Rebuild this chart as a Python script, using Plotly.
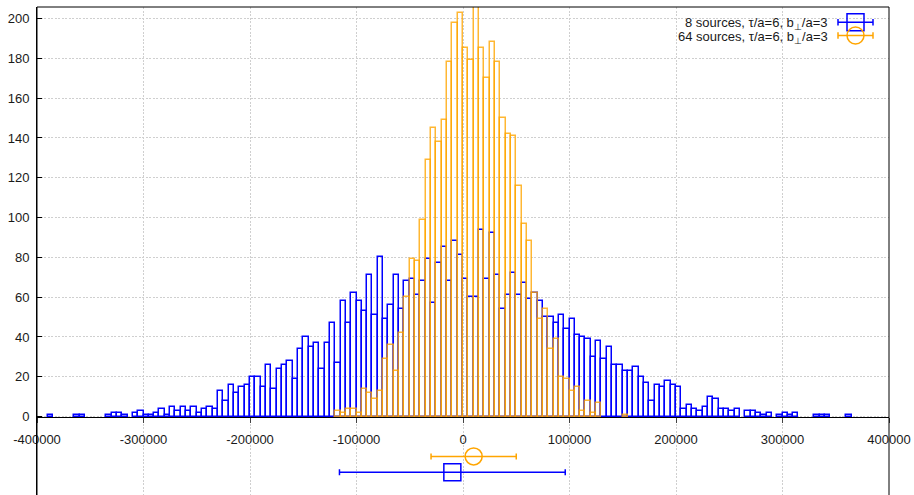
import plotly.graph_objects as go

# ---------------------------------------------------------------------------
# Histogram data: 5000-wide bins from -400000 to 400000 (left edges)
# ---------------------------------------------------------------------------
BIN_WIDTH = 5000
bin_left = list(range(-400000, 400000, BIN_WIDTH))

# 8 sources, tau/a=6, b_perp/a=3
counts_8 = [
    0, 0, 1, 0, 0, 0, 0, 1, 1, 0,            # -400000 .. -355000
    0, 0, 0, 1, 2, 2, 1, 0, 2, 3,            # -350000 .. -305000
    1, 1, 2, 4, 1, 5, 3, 5, 3, 5,            # -300000 .. -255000
    2, 4, 5, 4, 13, 8, 16, 12, 15, 16,       # -250000 .. -205000
    20, 20, 15, 26, 14, 24, 26, 28, 19, 34,  # -200000 .. -155000
    40, 35, 37, 24, 37, 47, 27, 58, 47, 62,  # -150000 .. -105000
    58, 53, 71, 51, 80, 49, 56, 71, 54, 68,  # -100000 .. -55000
    69, 61, 68, 79, 57, 77, 85, 68, 88, 81,  # -50000 .. -5000
    69, 60, 60, 94, 69, 92, 71, 54, 61, 72,  # 0 .. 45000
    61, 67, 59, 62, 58, 50, 50, 47, 51, 44,  # 50000 .. 95000
    49, 41, 40, 39, 30, 38, 29, 35, 26, 26,  # 100000 .. 145000
    23, 23, 25, 20, 17, 8, 16, 15, 18, 16,   # 150000 .. 195000
    15, 4, 6, 4, 3, 5, 10, 9, 4, 4,          # 200000 .. 245000
    3, 4, 0, 3, 3, 2, 1, 2, 0, 1,            # 250000 .. 295000
    2, 1, 2, 0, 0, 0, 1, 1, 1, 0,            # 300000 .. 345000
    0, 0, 1, 0, 0, 0, 0, 0, 0, 0,            # 350000 .. 395000
]

# 64 sources, tau/a=6, b_perp/a=3
counts_64 = [
    0, 0, 0, 0, 0, 0, 0, 0, 0, 0,
    0, 0, 0, 0, 0, 0, 0, 0, 0, 0,
    0, 0, 0, 0, 0, 0, 0, 0, 0, 0,
    0, 0, 0, 0, 0, 0, 0, 0, 0, 0,
    0, 0, 0, 0, 0, 0, 0, 0, 0, 0,
    0, 0, 0, 0, 0, 0, 3, 2, 4, 4,                 # ... -105000
    2, 14, 12, 9, 13, 29, 36, 23, 42, 60,         # -100000 .. -55000
    79, 78, 99, 129, 145, 138, 149, 178, 198, 203,  # -50000 .. -5000
    185, 179, 212, 185, 170, 188, 178, 150, 142, 141,  # 0 .. 45000
    116, 97, 88, 62, 49, 54, 34, 39, 20, 19,      # 50000 .. 95000
    13, 15, 3, 8, 2, 7, 0, 0, 0, 0,               # 100000 .. 145000
    1, 0, 0, 0, 0, 0, 0, 0, 0, 0,                 # 150000 ..
    0, 0, 0, 0, 0, 0, 0, 0, 0, 0,
    0, 0, 0, 0, 0, 0, 0, 0, 0, 0,
    0, 0, 0, 0, 0, 0, 0, 0, 0, 0,
    0, 0, 0, 0, 0, 0, 0, 0, 0, 0,
]

# Mean and spread of each distribution, drawn below the histogram
series_names = ["8 sources, τ/a=6, b<sub>⊥</sub>/a=3",
                "64 sources, τ/a=6, b<sub>⊥</sub>/a=3"]
series_mean = [-10000, 10000]
series_spread = [106000, 40000]
series_row = [-28, -20]

x_ticks = list(range(-400000, 400001, 100000))
y_ticks = list(range(0, 201, 20))

# ---------------------------------------------------------------------------
BLUE = "#0000ff"
ORANGE = "#ffa500"
ORANGE_OVER = "rgba(255,165,0,0.8)"
GRID = "#cfcfcf"
GRID_DASH = "2px,1.5px"

W, H = 914, 495
ML, MR, MT, MB = 37, 25, 7, 0
PW, PH = W - ML - MR, H - MT - MB
YMIN, YMAX = -39.4, 205.8


def fx(px):
    return (px - ML) / PW


def fy(py):
    return 1 - (py - MT) / PH


centers = [b + BIN_WIDTH / 2 for b in bin_left]


def drawn(counts):
    return [c if c > 0 else None for c in counts]


fig = go.Figure()

fig.add_trace(go.Bar(
    x=centers, y=drawn(counts_8), width=BIN_WIDTH,
    marker=dict(color="rgba(0,0,0,0)", line=dict(color=BLUE, width=1.5)),
    hoverinfo="skip", showlegend=False,
))
fig.add_trace(go.Bar(
    x=centers, y=drawn(counts_64), width=BIN_WIDTH,
    marker=dict(color="rgba(0,0,0,0)", line=dict(color=ORANGE_OVER, width=1.5)),
    hoverinfo="skip", showlegend=False,
))

symbols = ["square-open", "circle-open"]
colors = [BLUE, ORANGE]
for name, m, s, r, sym, col in zip(series_names, series_mean, series_spread,
                                   series_row, symbols, colors):
    fig.add_trace(go.Scatter(
        x=[m], y=[r], mode="markers", name=name,
        marker=dict(symbol=sym, size=17, color=col, line=dict(color=col, width=1.5)),
        error_x=dict(type="data", array=[s], color=col, thickness=1.5, width=3),
        hoverinfo="skip", showlegend=False, cliponaxis=False,
    ))

# Legend drawn gnuplot-style: text right-aligned, key to the right
shapes = [dict(type="rect", xref="paper", yref="paper", x0=0, x1=1, y0=-0.02, y1=1,
               line=dict(color="black", width=1), layer="above")]
annotations = []
legend_rows = [22.3, 35.5]
for i, (name, col) in enumerate(zip(series_names, colors)):
    yc = legend_rows[i]
    annotations.append(dict(
        xref="paper", yref="paper", x=fx(830), y=fy(yc + 1.5), xanchor="right",
        yanchor="middle", text=name, showarrow=False,
        font=dict(size=13, color="#1a1a1a"),
    ))
    shapes.append(dict(type="line", xref="paper", yref="paper",
                       x0=fx(838), x1=fx(873), y0=fy(yc), y1=fy(yc),
                       line=dict(color=col, width=1.5)))
    for xe in (838, 873):
        shapes.append(dict(type="line", xref="paper", yref="paper",
                           x0=fx(xe), x1=fx(xe), y0=fy(yc - 3.3), y1=fy(yc + 3.3),
                           line=dict(color=col, width=1.5)))
    shape_type = "rect" if i == 0 else "circle"
    shapes.append(dict(type=shape_type, xref="paper", yref="paper",
                       x0=fx(847), x1=fx(864), y0=fy(yc - 8.5), y1=fy(yc + 8.5),
                       line=dict(color=col, width=1.5)))

fig.update_layout(
    width=W, height=H,
    margin=dict(l=ML, r=MR, t=MT, b=MB),
    paper_bgcolor="white", plot_bgcolor="white",
    font=dict(family="Liberation Sans, Arial, sans-serif", size=13, color="#1a1a1a"),
    barmode="overlay", bargap=0,
    showlegend=False,
    shapes=shapes, annotations=annotations,
    xaxis=dict(
        range=[-400000, 400000],
        tickvals=x_ticks, ticktext=[str(v) for v in x_ticks],
        ticks="outside", ticklen=5, tickcolor="#444", tickwidth=1,
        showgrid=True, gridcolor=GRID, griddash=GRID_DASH, gridwidth=1,
        zeroline=False, showline=True, linecolor="black", linewidth=1,
        anchor="free", position=(0 - YMIN) / (YMAX - YMIN),
        layer="below traces", ticklabelstandoff=6,
    ),
    yaxis=dict(
        range=[YMIN, YMAX],
        tickvals=y_ticks, ticktext=[str(v) for v in y_ticks],
        ticks="inside", ticklen=5, tickcolor="black", tickwidth=1,
        showgrid=True, gridcolor=GRID, griddash=GRID_DASH, gridwidth=1,
        zeroline=False, showline=True, linecolor="black", linewidth=1,
        ticklabelstandoff=4,
    ),
)

fig.write_html("out.html")
